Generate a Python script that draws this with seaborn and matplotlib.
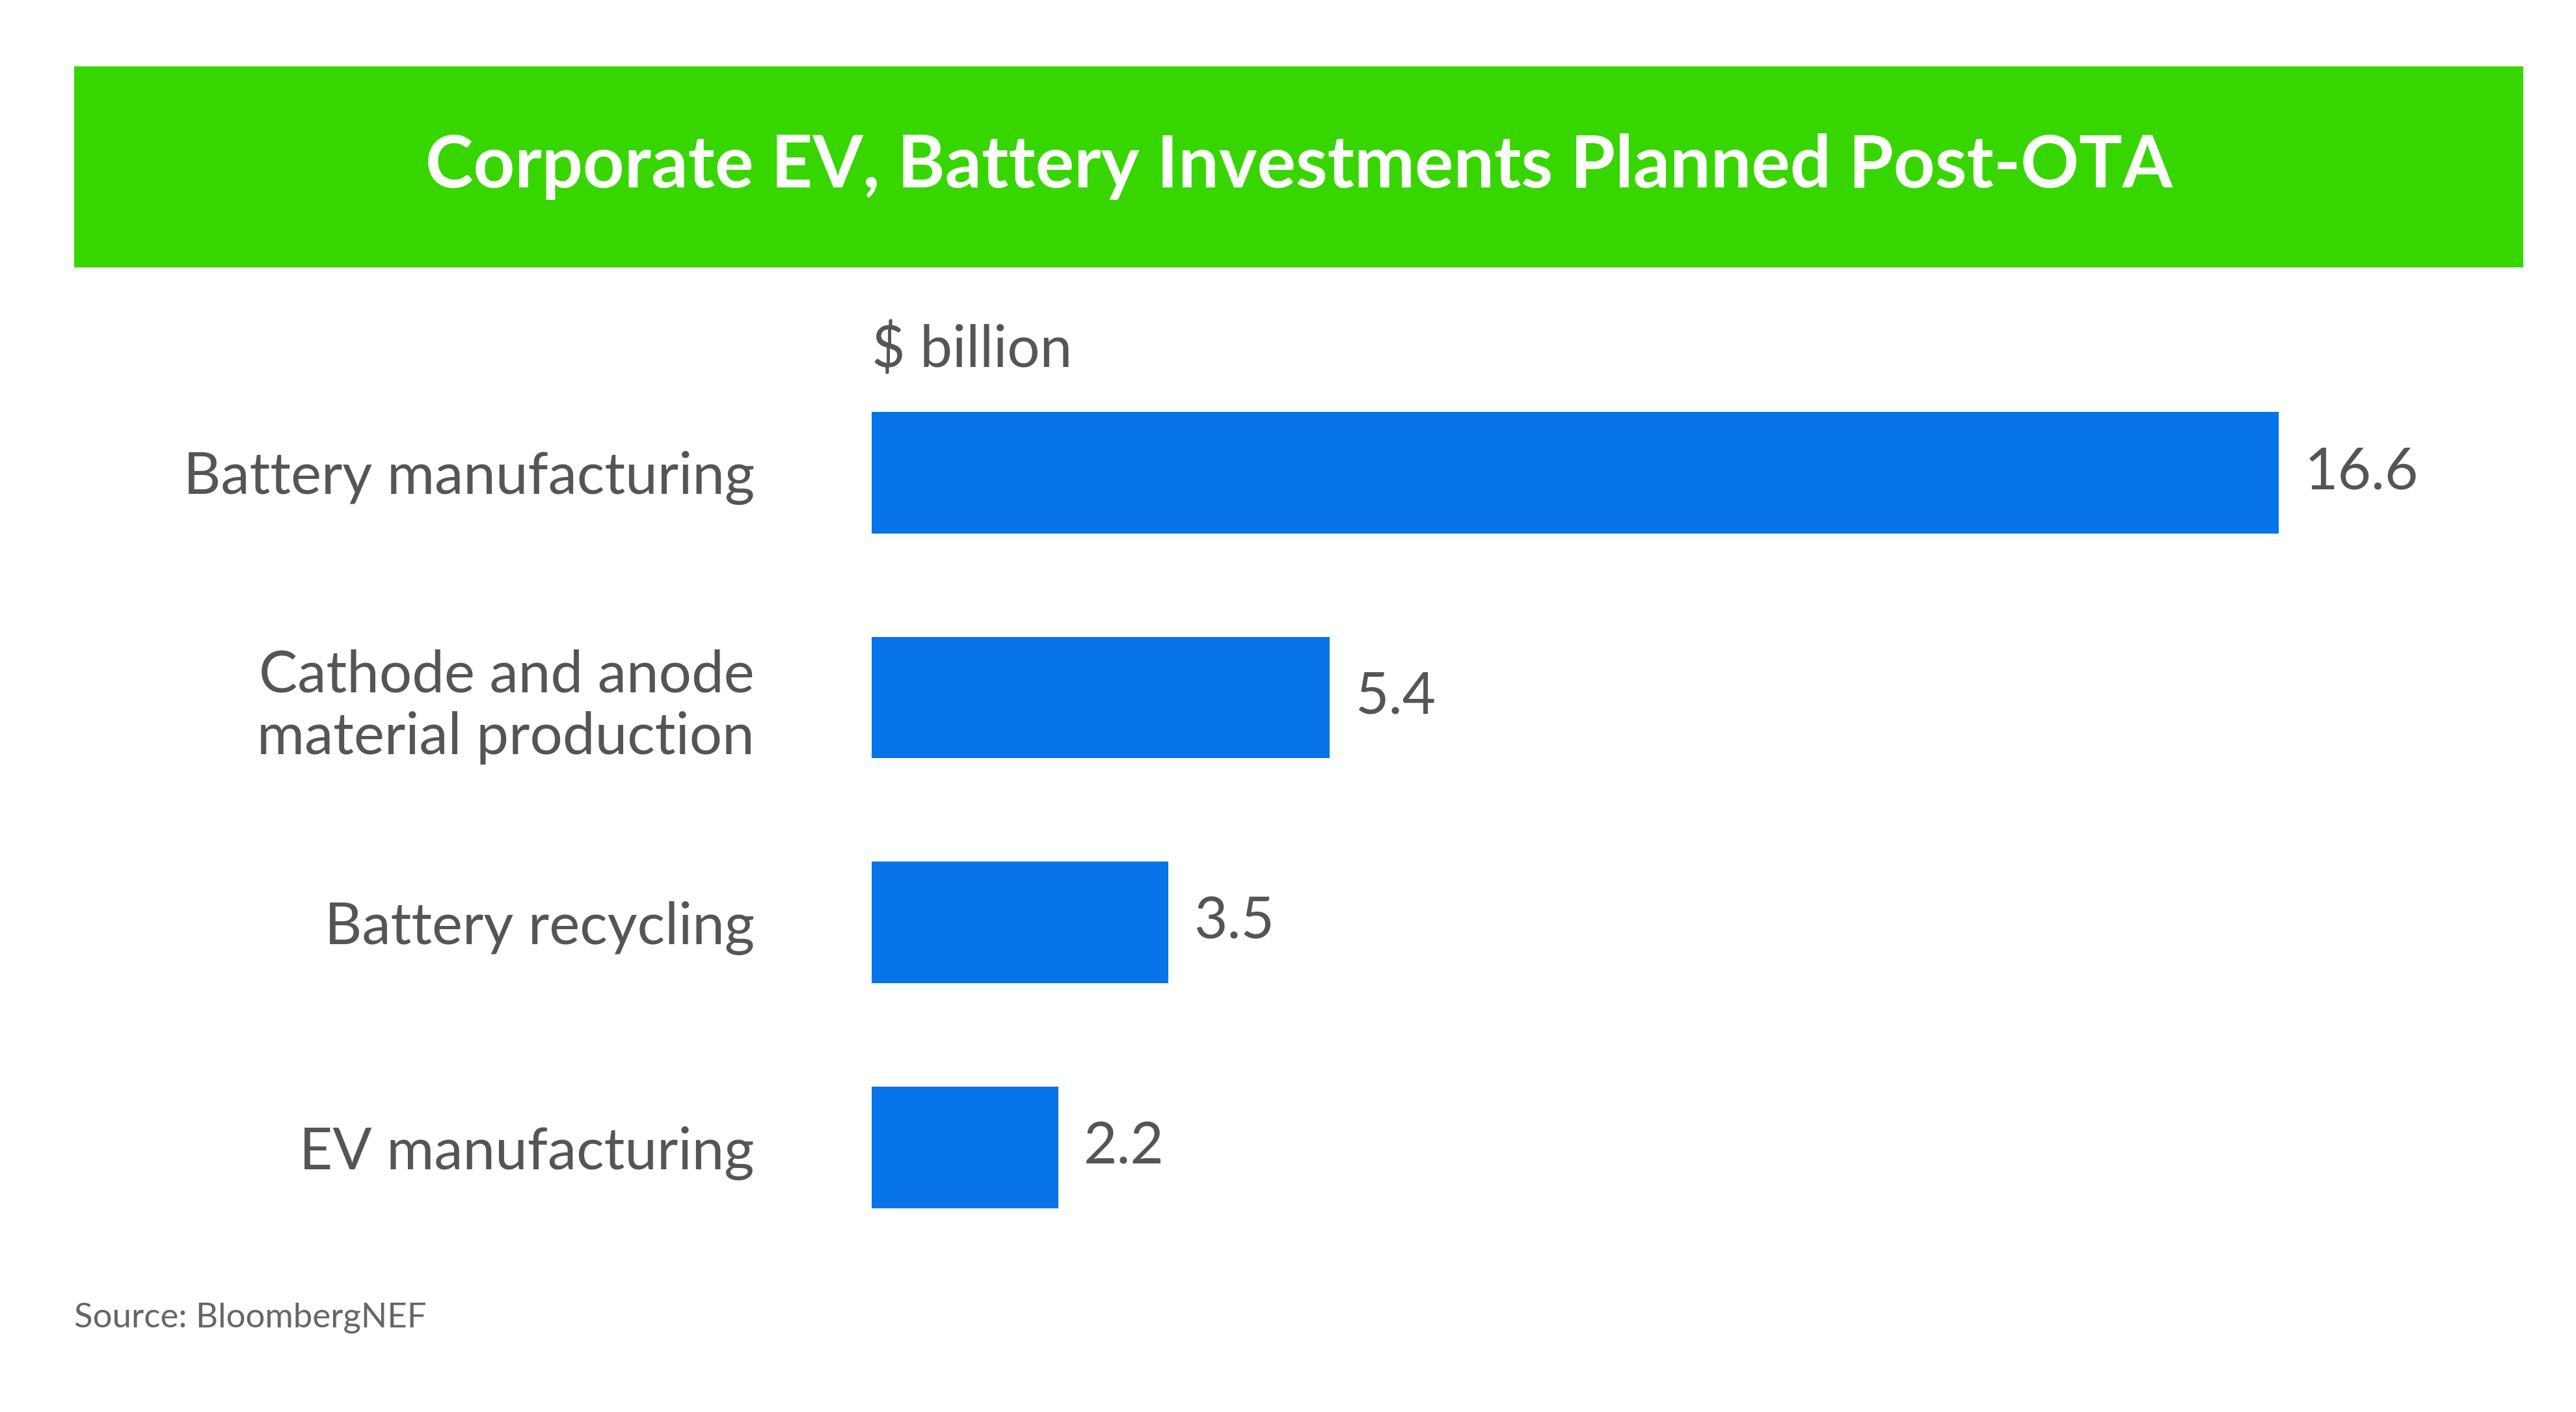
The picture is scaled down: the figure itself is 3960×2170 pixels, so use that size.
import matplotlib
matplotlib.use("Agg")
import matplotlib.pyplot as plt
import seaborn as sns
import pandas as pd
from matplotlib.patches import Rectangle

categories = ["Battery manufacturing", "Cathode and anode\nmaterial production", "Battery recycling", "EV manufacturing"]
values = [16.6, 5.4, 3.5, 2.2]
value_labels = ["16.6", "5.4", "3.5", "2.2"]

df = pd.DataFrame({"cat": categories, "val": values})
plt.rcParams["font.family"] = "Lato"
W, H = 1560, 855
fig = plt.figure(figsize=(39.6, 21.7), dpi=100)
fig.patch.set_facecolor("white")

# Title banner
fig.patches.append(Rectangle((45/W, 1-162/H), (1528-45)/W, 122/H, transform=fig.transFigure,
                             facecolor="#38d600", edgecolor="none"))
fig.text((45+1528)/2/W, 1-101/H, "Corporate EV, Battery Investments Planned Post-OTA",
         ha="center", va="center", color="white", fontsize=80, fontweight="bold")

ax = fig.add_axes([528/W, 1-763/H, (1452-528)/W, (763-218)/H])
sns.barplot(data=df, x="val", y="cat", orient="h", color="#0773e8", width=0.54, ax=ax, saturation=1)
ax.set_xlim(0, 18)
ax.set_ylim(3.5, -0.5)
for s in ax.spines.values():
    s.set_visible(False)
ax.set_xticks([])
ax.set_xlabel("")
ax.set_ylabel("")
ax.tick_params(axis="y", length=0, pad=130, labelsize=64, labelcolor="#555555")
for lab in ax.get_yticklabels():
    lab.set_horizontalalignment("right")
    lab.set_multialignment("right")
for i, (v, t) in enumerate(zip(values, value_labels)):
    ax.text(v + 0.3, i, t, va="center", ha="left", fontsize=64, color="#555555")

fig.text(528/W, 1-212/H, "$ billion", ha="left", va="center", fontsize=64, color="#555555")
fig.text(45/W, 1-798/H, "Source: BloombergNEF", ha="left", va="center", fontsize=38, color="#666666")

fig.savefig("out.png", dpi=100, facecolor="white")
